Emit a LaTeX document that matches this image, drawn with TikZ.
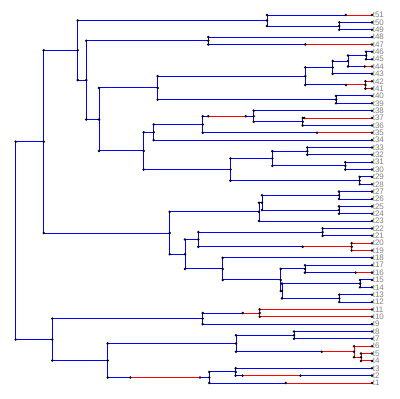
\documentclass[tikz,border=0pt]{standalone}
\usepackage{fontspec}
\setmainfont{Liberation Sans}
\definecolor{treeblue}{RGB}{0,0,255}
\definecolor{treered}{RGB}{255,0,0}
\tikzset{
 blueln/.style={draw=treeblue, line width=1pt},
 redln/.style={draw=treered, line width=1pt},
 dotfill/.style={fill=black},
 lab/.style={anchor=west, inner sep=0.6pt, font=\fontsize{8}{8}\selectfont, text=black!50},
}
\newcommand\dotr{1.4}
\begin{document}
\begin{tikzpicture}[x=1pt,y=-1pt]
\useasboundingbox (0,0) rectangle (400,399);
\foreach \i in {1,...,51}{\coordinate (t\i) at (372,{383-(\i-1)*7.36});}
% internal nodes
\coordinate (root) at (15.7,240.6);
\coordinate (nA) at (43.7,141.67);
\coordinate (nB) at (77.7,50.3);
\coordinate (nK) at (169.7,233.04);
\coordinate (N51) at (267,20.52);
\coordinate (N50) at (339.3,26.04);
\coordinate (nC) at (86.3,80.09);
\coordinate (N48) at (208.3,40.76);
\coordinate (nD) at (99,119.42);
\coordinate (nE) at (157.7,87.91);
\coordinate (nF) at (143.7,150.93);
\coordinate (N46) at (305.3,76.18);
\coordinate (N40) at (336,99.64);
\coordinate (nP) at (332.7,67.44);
\coordinate (nQ) at (365.5,84.92);
\coordinate (nR) at (348,61.0);
\coordinate (nS) at (366,55.48);
\coordinate (nG) at (153.7,132.3);
\coordinate (nT) at (230.5,169.56);
\coordinate (nH) at (202.7,124.48);
\coordinate (nI) at (253.7,116.2);
\coordinate (nJ) at (302.7,121.72);
\coordinate (nU) at (272.3,158.52);
\coordinate (nV) at (359.7,180.6);
\coordinate (N33) at (307.3,151.16);
\coordinate (N31) at (345.3,165.88);
\coordinate (nL) at (259,211.88);
\coordinate (nL1) at (262,202.68);
\coordinate (N27) at (339,195.32);
\coordinate (N25) at (339,210.04);
\coordinate (nM) at (185,254.2);
\coordinate (nW) at (198.3,239.48);
\coordinate (N22) at (322.7,232.12);
\coordinate (N20) at (351.7,246.84);
\coordinate (nX) at (222.7,268.92);
\coordinate (nY) at (280.7,279.96);
\coordinate (nY2) at (282,291.0);
\coordinate (N17) at (305,268.92);
\coordinate (N15) at (360,283.64);
\coordinate (N13) at (339.3,298.36);
\coordinate (nAA) at (52.3,339.53);
\coordinate (nBB) at (202.7,318.6);
\coordinate (nBB1) at (259.7,313.08);
\coordinate (nCC) at (107.7,360.46);
\coordinate (nDD) at (236,343.44);
\coordinate (nFF) at (354,351.72);
\coordinate (nGG) at (361,357.24);
\coordinate (N8) at (294,335.16);
\coordinate (nEE) at (209.3,377.48);
\coordinate (nHH) at (235.7,371.96);
% change points
\coordinate (c1) at (345.7,0 |- t51);
\coordinate (c2) at (305.3,0 |- t47);
\coordinate (c3) at (346,0 |- nQ);
\coordinate (c4) at (364.7,0 |- t44);
\coordinate (c5) at (208.3,0 |- nI);
\coordinate (c6) at (245.7,0 |- nI);
\coordinate (c7) at (317,0 |- t35);
\coordinate (c8) at (304.3,0 |- t37);
\coordinate (c9) at (302.7,0 |- N20);
\coordinate (c10) at (355.7,0 |- t16);
\coordinate (c11) at (242.7,0 |- nBB1);
\coordinate (c12) at (130.3,0 |- nEE);
\coordinate (c13) at (200,0 |- nEE);
\coordinate (c14) at (321.7,0 |- nFF);
\coordinate (c15) at (285.7,0 |- t1);
\coordinate (c16) at (242.7,0 |- t2);
\coordinate (c17) at (300.3,0 |- t2);
% ---------- blue lines ----------
\begin{scope}[blueln]
\foreach \n/\a/\b in {root/nA/nAA, nA/nB/nK, nB/N51/nC, N51/t51/N50, N50/t50/t49,
  nC/N48/nD, N48/t48/t47, nD/nE/nF, nE/N46/N40, N46/nP/nQ, nP/nR/t43, nR/nS/t44,
  nS/t46/t45, N40/t40/t39, nF/nG/nT, nG/nH/t34, nH/nI/t35, nI/t38/nJ, nJ/t37/t36,
  nT/nU/nV, nU/N33/N31, N33/t33/t32, N31/t31/t30, nV/t29/t28, nK/nL/nM, nL/nL1/t23,
  nL1/N27/N25, N27/t27/t26, N25/t25/t24, nM/nW/nX, nW/N22/N20, N22/t22/t21,
  nX/t18/nY, nY/N17/nY2, nY2/N15/N13, N17/t17/t16, N15/t15/t14, N13/t13/t12,
  nAA/nBB/nCC, nBB/nBB1/t9, nCC/nDD/nEE, nDD/N8/nFF, N8/t8/t7, nEE/nHH/t1, nHH/t3/t2}
  {\draw (\n |- \a) -- (\n |- \b);}
\foreach \p/\c in {root/nA, root/nAA, nA/nB, nA/nK, nB/N51, nB/nC, N51/N50, N50/t50,
  N50/t49, nC/N48, nC/nD, N48/t48, nD/nE, nD/nF, nE/N46, nE/N40, N46/nP, nP/nR,
  nP/t43, nR/nS, nS/t46, nS/t45, N40/t40, N40/t39, nF/nG, nF/nT, nG/nH, nG/t34,
  nI/t38, nI/nJ, nJ/t36, nT/nU, nT/nV, nU/N33, nU/N31, N33/t33, N33/t32, N31/t31,
  N31/t30, nV/t29, nV/t28, nK/nL, nK/nM, nL/nL1, nL/t23, nL1/N27, nL1/N25, N27/t27,
  N27/t26, N25/t25, N25/t24, nM/nW, nM/nX, nW/N22, N22/t22, N22/t21, nX/t18, nX/nY,
  nY/N17, nY/nY2, N17/t17, nY2/N15, nY2/N13, N15/t15, N15/t14, N13/t13, N13/t12,
  nAA/nBB, nAA/nCC, nBB/t9, nCC/nDD, nDD/N8, N8/t8, N8/t7, nEE/nHH, nHH/t3}
  {\draw (\p |- \c) -- (\c);}
\draw (N51 |- t51) -- (c1);
\draw (N48 |- t47) -- (c2);
\draw (N46 |- nQ) -- (c3);
\draw (nR |- t44) -- (c4);
\draw (nH |- nI) -- (c5);
\draw (c6) -- (nI);
\draw (nH |- t35) -- (c7);
\draw (nJ |- t37) -- (c8);
\draw (nW |- N20) -- (c9);
\draw (N17 |- t16) -- (c10);
\draw (nBB |- nBB1) -- (c11);
\draw (nCC |- nEE) -- (c12);
\draw (c13) -- (nEE);
\draw (nDD |- nFF) -- (c14);
\draw (nEE |- t1) -- (c15);
\draw (nHH |- t2) -- (c16);
\draw (c17) -- (t2);
\end{scope}
% ---------- red lines ----------
\begin{scope}[redln]
\foreach \n/\a/\b in {nQ/t42/t41, N20/t20/t19, nBB1/t11/t10, nFF/t6/nGG, nGG/t5/t4}
  {\draw (\n |- \a) -- (\n |- \b);}
\foreach \p/\c in {nQ/t42, nQ/t41, N20/t20, N20/t19, nBB1/t11, nBB1/t10, nFF/t6,
  nFF/nGG, nGG/t5, nGG/t4}
  {\draw (\p |- \c) -- (\c);}
\draw (c1) -- (t51);
\draw (c2) -- (t47);
\draw (c3) -- (nQ);
\draw (c4) -- (t44);
\draw (c5) -- (c6);
\draw (c7) -- (t35);
\draw (c8) -- (t37);
\draw (c9) -- (N20);
\draw (c10) -- (t16);
\draw (c11) -- (nBB1);
\draw (c12) -- (c13);
\draw (c14) -- (nFF);
\draw (c15) -- (t1);
\draw (c16) -- (c17);
\end{scope}
% ---------- dots ----------
\begin{scope}[dotfill]
\foreach \p/\c in {root/nA, root/nAA, nA/nB, nA/nK, nB/N51, nB/nC, N51/t51, N51/N50,
  N50/t50, N50/t49, nC/N48, nC/nD, N48/t48, N48/t47, nD/nE, nD/nF, nE/N46, nE/N40,
  N46/nP, N46/nQ, nP/nR, nP/t43, nR/nS, nR/t44, nS/t46, nS/t45, nQ/t42, nQ/t41,
  N40/t40, N40/t39, nF/nG, nF/nT, nG/nH, nG/t34, nH/nI, nH/t35, nI/t38, nI/nJ,
  nJ/t37, nJ/t36, nT/nU, nT/nV, nU/N33, nU/N31, N33/t33, N33/t32, N31/t31, N31/t30,
  nV/t29, nV/t28, nK/nL, nK/nM, nL/nL1, nL/t23, nL1/N27, nL1/N25, N27/t27, N27/t26,
  N25/t25, N25/t24, nM/nW, nM/nX, nW/N22, nW/N20, N22/t22, N22/t21, N20/t20, N20/t19,
  nX/t18, nX/nY, nY/N17, nY/nY2, N17/t17, N17/t16, nY2/N15, nY2/N13, N15/t15, N15/t14,
  N13/t13, N13/t12, nAA/nBB, nAA/nCC, nBB/nBB1, nBB/t9, nBB1/t11, nBB1/t10, nCC/nDD,
  nCC/nEE, nDD/N8, nDD/nFF, N8/t8, N8/t7, nFF/t6, nFF/nGG, nGG/t5, nGG/t4, nEE/nHH,
  nEE/t1, nHH/t3, nHH/t2}
  {\fill (\p |- \c) circle (\dotr) (\c) circle (\dotr);}
\foreach \q in {c1,c2,c3,c4,c5,c6,c7,c8,c9,c10,c11,c12,c13,c14,c15,c16,c17}
  {\fill (\q) circle (\dotr);}
\end{scope}
% labels
\foreach \i in {1,...,51}{\node[lab] (l\i) at (t\i) {t\i};}
\end{tikzpicture}
\end{document}
